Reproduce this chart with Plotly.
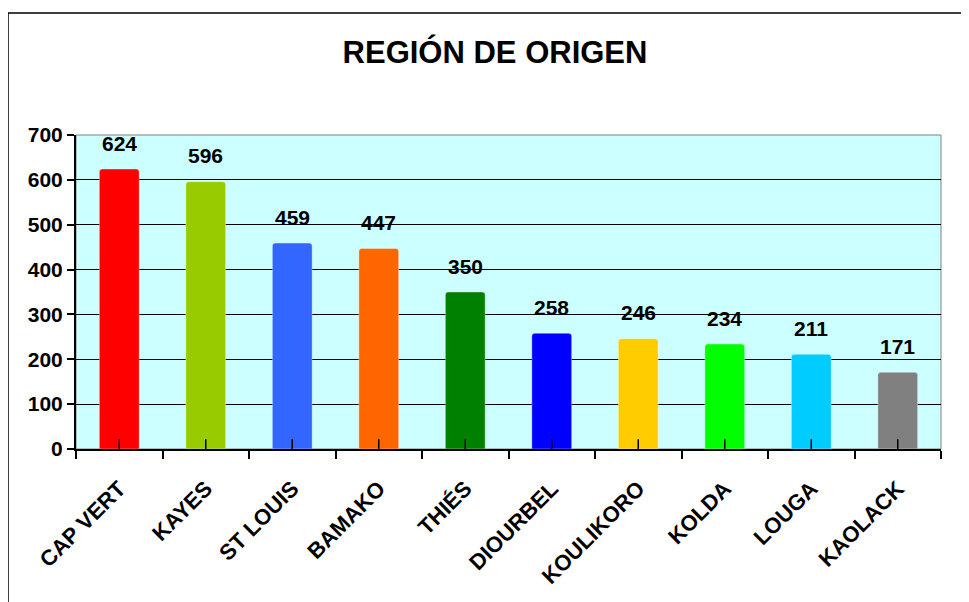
import plotly.graph_objects as go

categories = ["CAP VERT", "KAYES", "ST LOUIS", "BAMAKO", "THIÉS", "DIOURBEL",
              "KOULIKORO", "KOLDA", "LOUGA", "KAOLACK"]
values = [624, 596, 459, 447, 350, 258, 246, 234, 211, 171]
colors = ["#FF0000", "#99CC00", "#3366FF", "#FF6600", "#008000", "#0000FF",
          "#FFCC00", "#00FF00", "#00CCFF", "#808080"]
y_ticks = [0, 100, 200, 300, 400, 500, 600, 700]

FONT = "Liberation Sans, Arial, sans-serif"
pos = list(range(len(categories)))

fig = go.Figure()
fig.add_trace(go.Bar(
    x=pos, y=values,
    marker=dict(color=colors, line=dict(color="rgba(255,255,255,0.35)", width=1), cornerradius=3),
    width=0.46,
    hovertext=categories, hoverinfo="text+y",
))
# short inner tick marks at category centres (clipped at the plot edge -> upper half only)
fig.add_trace(go.Scatter(
    x=pos, y=[0] * len(pos), mode="markers", cliponaxis=True,
    marker=dict(symbol="line-ns", size=14, line=dict(color="black", width=1.5)),
    hoverinfo="skip", showlegend=False,
))

annotations = []
for p, v in zip(pos, values):
    annotations.append(dict(x=p, y=v, xref="x", yref="y", text=str(v),
                            showarrow=False, yanchor="middle", yshift=26,
                            font=dict(family=FONT, size=21, color="black", weight="bold")))

fig.update_layout(
    width=969, height=602,
    margin=dict(l=68, r=36, t=127, b=161),
    paper_bgcolor="white",
    plot_bgcolor="#CCFFFF",
    showlegend=False,
    title=dict(text="REGIÓN DE ORIGEN", x=487 / 969, xanchor="center",
               y=1 - 44 / 602, yanchor="middle",
               font=dict(family=FONT, size=31, color="black", weight="bold")),
    font=dict(family=FONT, color="black"),
    xaxis=dict(
        tickmode="array", tickvals=pos, ticktext=categories,
        ticks="", 
        minor=dict(tick0=0.5, dtick=1, ticks="outside", ticklen=8,
                   tickcolor="black", tickwidth=1.5, showgrid=False),
        showline=True, linecolor="black", linewidth=2,
        showgrid=False, zeroline=False, tickangle=-45, ticklabelstandoff=16,
        tickfont=dict(family=FONT, size=22, color="black", weight="bold"),
        range=[-0.5, len(categories) - 0.5],
    ),
    yaxis=dict(
        range=[0, 700], tickvals=y_ticks, ticks="outside", ticklen=7,
        tickcolor="black", tickwidth=1.5,
        showline=True, linecolor="black", linewidth=2,
        showgrid=True, gridcolor="black", gridwidth=1,
        zeroline=False,
        tickfont=dict(family=FONT, size=21, color="black", weight="bold"),
    ),
    annotations=annotations,
    shapes=[
        # plot area border (gray)
        dict(type="rect", xref="paper", yref="paper", x0=0, y0=0, x1=1, y1=1,
             line=dict(color="#808080", width=1), layer="below"),
        # outer chart border
        dict(type="rect", xref="paper", yref="paper",
             x0=-68 / 865, y0=-200 / 314, x1=1 + 60 / 865, y1=1 + 122 / 314,
             line=dict(color="black", width=1.5), layer="below"),
    ],
)

fig.write_html("out.html")
